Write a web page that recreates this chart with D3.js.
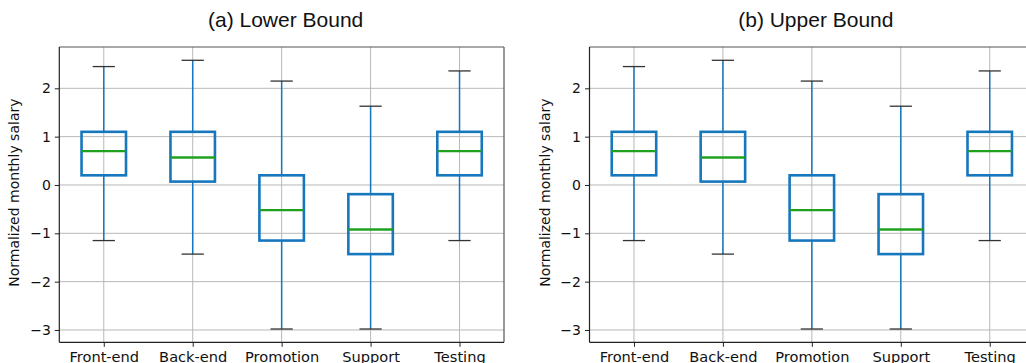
<!DOCTYPE html>
<html>
<head>
<meta charset="utf-8">
<script src="https://cdn.jsdelivr.net/npm/d3@7/dist/d3.min.js"></script>
<style>
  html, body { margin: 0; padding: 0; background: #fff; overflow: hidden; }
  svg { display: block; }
</style>
</head>
<body>
<svg id="chart" width="1026" height="363"></svg>
<script>
// Job categories shown on the x axis
const categories = ["Front-end", "Back-end", "Promotion", "Support", "Testing"];

// Five-number summaries per category (lower whisker, Q1, median, Q3, upper whisker)
const whiskerLow  = [-1.15, -1.43, -2.98, -2.98, -1.15];
const quartile1   = [ 0.20,  0.07, -1.15, -1.43,  0.20];
const medians     = [ 0.70,  0.57, -0.52, -0.92,  0.70];
const quartile3   = [ 1.10,  1.10,  0.20, -0.19,  1.10];
const whiskerHigh = [ 2.45,  2.58,  2.15,  1.63,  2.36];

const yTicks = [-3, -2, -1, 0, 1, 2];
const panelTitles = ["(a) Lower Bound", "(b) Upper Bound"];
const yLabel = "Normalized monthly salary";

const rows = categories.map((c, i) => ({
  cat: c, lo: whiskerLow[i], q1: quartile1[i], med: medians[i], q3: quartile3[i], hi: whiskerHigh[i]
}));

const svg = d3.select("#chart");
const blue = "#1677bd", green = "#1fa01f", grid = "#b8b8b8";
const minus = s => String(s).replace("-", "\u2212");

function panel(left, title) {
  const width = 444.7, top = 47, bottom = 342.3;
  const x = d3.scalePoint().domain(categories).range([left, left + width]).padding(0.5);
  const y = d3.scaleLinear().domain([-3.255, 2.855]).range([bottom, top]);
  const unit = x.step();
  const g = svg.append("g");

  // grid
  g.selectAll(".hg").data(yTicks).join("line")
    .attr("x1", left).attr("x2", left + width)
    .attr("y1", d => y(d)).attr("y2", d => y(d))
    .attr("stroke", grid).attr("stroke-width", 1);
  g.selectAll(".vg").data(categories).join("line")
    .attr("x1", d => x(d)).attr("x2", d => x(d))
    .attr("y1", top).attr("y2", bottom)
    .attr("stroke", grid).attr("stroke-width", 1);

  // axes
  const ya = d3.axisLeft(y).tickValues(yTicks).tickSize(4.5).tickPadding(4).tickFormat(minus);
  const yg = g.append("g").attr("transform", `translate(${left},0)`).call(ya);
  const xa = d3.axisBottom(x).tickSize(4.5).tickPadding(5);
  const xg = g.append("g").attr("transform", `translate(0,${bottom})`).call(xa);
  [yg, xg].forEach(a => {
    a.select(".domain").remove();
    a.selectAll("line").attr("stroke", "#222").attr("stroke-width", 1);
    a.selectAll("text").attr("fill", "#111")
      .style("font-family", "'DejaVu Sans', sans-serif").style("font-size", "14px");
  });
  xg.selectAll("text").style("font-size", "14.6px");

  // whiskers
  const b = g.selectAll(".box").data(rows).join("g");
  b.append("line").attr("x1", d => x(d.cat)).attr("x2", d => x(d.cat))
    .attr("y1", d => y(d.q3)).attr("y2", d => y(d.hi))
    .attr("stroke", blue).attr("stroke-width", 1.5);
  b.append("line").attr("x1", d => x(d.cat)).attr("x2", d => x(d.cat))
    .attr("y1", d => y(d.q1)).attr("y2", d => y(d.lo))
    .attr("stroke", blue).attr("stroke-width", 1.5);
  // caps
  ["lo", "hi"].forEach(k => {
    b.append("line")
      .attr("x1", d => x(d.cat) - unit * 0.125).attr("x2", d => x(d.cat) + unit * 0.125)
      .attr("y1", d => y(d[k])).attr("y2", d => y(d[k]))
      .attr("stroke", "#333").attr("stroke-width", 1.3);
  });
  // boxes
  b.append("rect")
    .attr("x", d => x(d.cat) - unit * 0.25).attr("width", unit * 0.5)
    .attr("y", d => y(d.q3)).attr("height", d => y(d.q1) - y(d.q3))
    .attr("fill", "none").attr("stroke", blue).attr("stroke-width", 2.6);
  // medians
  b.append("line")
    .attr("x1", d => x(d.cat) - unit * 0.25).attr("x2", d => x(d.cat) + unit * 0.25)
    .attr("y1", d => y(d.med)).attr("y2", d => y(d.med))
    .attr("stroke", green).attr("stroke-width", 2.4);

  // spines
  g.append("line").attr("x1", left).attr("x2", left + width).attr("y1", top).attr("y2", top)
    .attr("stroke", "#555").attr("stroke-width", 1.2);
  g.append("line").attr("x1", left + width).attr("x2", left + width).attr("y1", top).attr("y2", bottom)
    .attr("stroke", "#555").attr("stroke-width", 1.2);
  g.append("line").attr("x1", left).attr("x2", left).attr("y1", top).attr("y2", bottom)
    .attr("stroke", "#222").attr("stroke-width", 1.2);
  g.append("line").attr("x1", left).attr("x2", left + width).attr("y1", bottom).attr("y2", bottom)
    .attr("stroke", "#222").attr("stroke-width", 1.2);

  // title and y label
  g.append("text").attr("x", left + width / 2 + 4).attr("y", 27)
    .attr("text-anchor", "middle").attr("fill", "#111")
    .style("font-family", "'Liberation Sans', Arial, sans-serif").style("font-size", "21px")
    .text(title);
  g.append("text")
    .attr("transform", `translate(${left - 40},${(top + bottom) / 2 - 2}) rotate(-90)`)
    .attr("text-anchor", "middle").attr("fill", "#111")
    .style("font-family", "'DejaVu Sans', sans-serif").style("font-size", "14px")
    .text(yLabel);
}

panel(59.3, panelTitles[0]);
panel(589.5, panelTitles[1]);
</script>
</body>
</html>
